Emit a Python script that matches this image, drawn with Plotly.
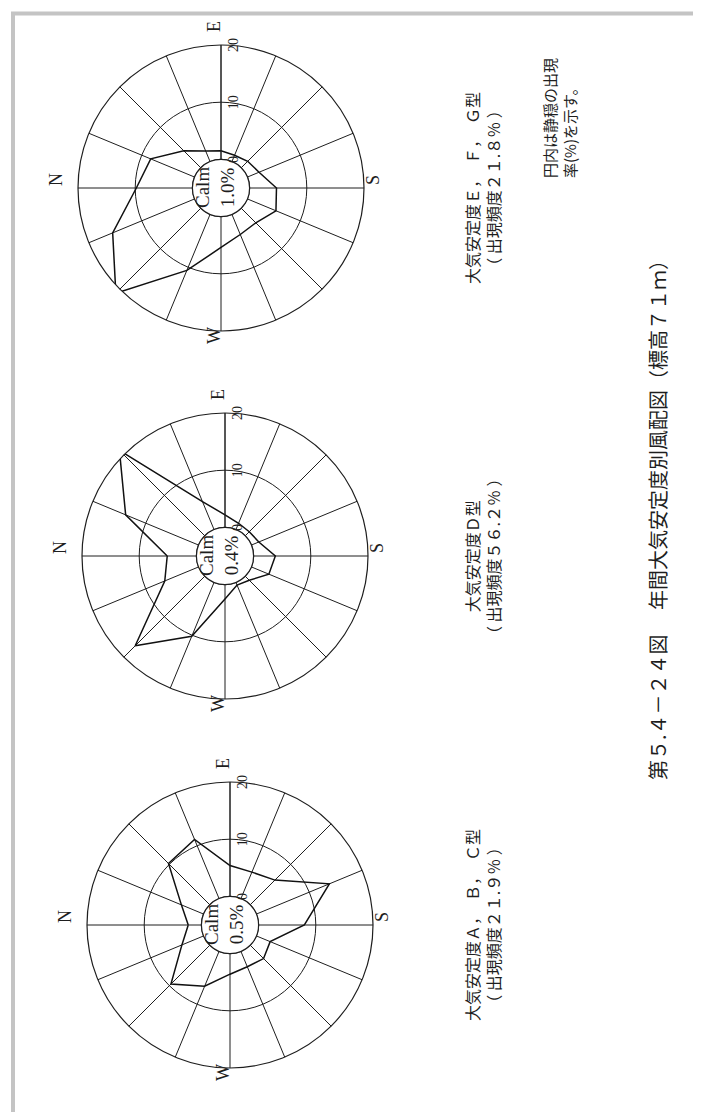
import plotly.graph_objects as go

# ---------------- data ----------------
directions = ["N", "NNE", "NE", "ENE", "E", "ESE", "SE", "SSE",
              "S", "SSW", "SW", "WSW", "W", "WNW", "NW", "NNW"]
compass = ["N", "E", "S", "W"]

# frequency of wind direction (%) per stability class
abc_values = [2.3, 4.2, 10.2, 11.2, 5.4, 5.0, 6.1, 13.8, 8.0, 2.6, 3.3, 2.9, 3.6, 6.6, 9.6, 4.1]
d_values = [5.1, 13.8, 21.1, 5.3, 2.2, 1.2, 1.0, 1.4, 3.8, 3.3, 1.0, 0.5, 2.5, 10.2, 17.2, 6.4]
efg_values = [9.8, 8.3, 4.2, 2.0, 1.5, 1.2, 1.6, 2.2, 4.7, 5.4, 3.6, 3.8, 5.4, 10.6, 21.0, 15.5]

calm_values = [0.5, 0.4, 1.0]
class_names = ["大気安定度Ａ，　Ｂ，　Ｃ型", "大気安定度Ｄ型", "大気安定度Ｅ，　Ｆ，　Ｇ型"]
class_freq = ["（ 出現頻度２１.９％ ）", "（ 出現頻度５６.２％ ）", "（ 出現頻度２１.８％ ）"]
radial_ticks = [0, 10, 20]

title_text = "第５.４－２４図　 年間大気安定度別風配図（標高７１ｍ）"
note_text = "円内は静穏の出現<br>率(%)を示す。"

# ---------------- layout helpers ----------------
W, H = 701, 1112
SERIF = "Liberation Serif, DejaVu Serif, serif"
JP = "Noto Sans CJK JP, sans-serif"
INK = "#1e1e1e"

# chart centres / radius in page pixels (A,B,C bottom ; D middle ; E,F,G top)
centres = [(222, 917), (217, 548), (213, 180)]
R = 143
# offsets (px) of compass letters N, E, S, W from the chart centre
compass_shift = [(-165, 8), (-7, 161), (152, 8), (-7, -148)]

step = 360 / len(directions)
thetas = [i * step for i in range(len(directions))]

fig = go.Figure()
series = [abc_values, d_values, efg_values]
layout_polars = {}
annotations = []

for k, (vals, (cx, cy)) in enumerate(zip(series, centres)):
    pname = "polar" if k == 0 else f"polar{k + 1}"
    # calm circle (inner boundary)
    ring_theta = [i * 2.0 for i in range(181)]
    fig.add_trace(go.Scatterpolar(
        r=[radial_ticks[0]] * len(ring_theta), theta=ring_theta, mode="lines",
        line=dict(color=INK, width=1), hoverinfo="skip", showlegend=False,
        subplot=pname))
    fig.add_trace(go.Scatterpolar(
        r=vals + [vals[0]], theta=thetas + [thetas[0]], mode="lines",
        line=dict(color="#111111", width=1.5), cliponaxis=False,
        showlegend=False, subplot=pname, name=class_names[k]))

    layout_polars[pname] = dict(
        domain=dict(x=[(cx - R) / W, (cx + R) / W],
                    y=[1 - (cy + R) / H, 1 - (cy - R) / H]),
        hole=0.2,
        bgcolor="rgba(0,0,0,0)",
        radialaxis=dict(
            range=[0, 20], tickmode="array", tickvals=radial_ticks,
            angle=90, side="clockwise", tickangle=0,
            showline=True, linecolor=INK, linewidth=1,
            showgrid=True, gridcolor=INK, gridwidth=1, ticks="",
            tickfont=dict(family=SERIF, size=14, color=INK)),
        angularaxis=dict(
            rotation=180, direction="clockwise", tickmode="array",
            tickvals=thetas, showticklabels=False,
            showline=True, linecolor=INK, linewidth=1.2,
            showgrid=True, gridcolor=INK, gridwidth=1, ticks=""),
    )

    # compass letters
    for lab, (sx, sy) in zip(compass, compass_shift):
        annotations.append(dict(
            x=cx / W, y=1 - cy / H, xref="paper", yref="paper",
            xshift=sx, yshift=sy, text=lab, showarrow=False, textangle=-90,
            font=dict(family=SERIF, size=18, color=INK),
            xanchor="center", yanchor="middle"))

    # calm value inside circle
    annotations.append(dict(
        x=cx / W, y=1 - cy / H, xref="paper", yref="paper", xshift=-6,
        text=f"Calm<br>{calm_values[k]:.1f}%", showarrow=False, textangle=-90,
        font=dict(family=SERIF, size=19, color=INK), align="center",
        xanchor="center", yanchor="middle"))
    # caption of each chart
    annotations.append(dict(
        x=474 / W, y=1 - cy / H, xref="paper", yref="paper",
        text=f"{class_names[k]}<br>{class_freq[k]}", showarrow=False,
        textangle=-90, font=dict(family=JP, size=16, color=INK),
        align="center", xanchor="center", yanchor="middle"))

annotations.append(dict(
    x=551 / W, y=1 - 110 / H, xref="paper", yref="paper", text=note_text,
    showarrow=False, textangle=-90, font=dict(family=JP, size=15, color=INK),
    align="left", xanchor="center", yanchor="middle"))
annotations.append(dict(
    x=650 / W, y=1 - 507 / H, xref="paper", yref="paper", text=title_text,
    showarrow=False, textangle=-90, font=dict(family=JP, size=20, color=INK),
    align="center", xanchor="center", yanchor="middle"))

fig.update_layout(
    width=W, height=H,
    margin=dict(l=0, r=0, t=0, b=0),
    paper_bgcolor="white", plot_bgcolor="white",
    showlegend=False,
    annotations=annotations,
    shapes=[dict(type="rect", xref="paper", yref="paper",
                 x0=5 / W, x1=697 / W, y0=1 - 1110 / H, y1=1 - 5.5 / H,
                 line=dict(color="#c4c4c4", width=4))],
    **layout_polars,
)

fig.write_html("out.html")
